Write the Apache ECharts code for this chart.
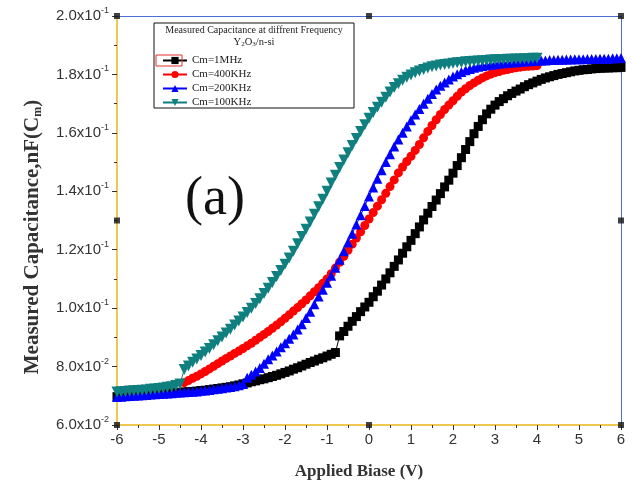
<!DOCTYPE html>
<html>
<head>
<meta charset="utf-8">
<script src="https://cdn.jsdelivr.net/npm/echarts@6/dist/echarts.min.js"></script>
<style>
  html, body { margin: 0; padding: 0; background: #fff; }
  #chart { width: 632px; height: 490px; }
</style>
</head>
<body>
<div id="chart"></div>
<script>
// applied bias (V), 0.1 V steps
const bias = [
  -6.0, -5.9, -5.8, -5.7, -5.6, -5.5, -5.4, -5.3, -5.2, -5.1,
  -5.0, -4.9, -4.8, -4.7, -4.6, -4.5, -4.4, -4.3, -4.2, -4.1,
  -4.0, -3.9, -3.8, -3.7, -3.6, -3.5, -3.4, -3.3, -3.2, -3.1,
  -3.0, -2.9, -2.8, -2.7, -2.6, -2.5, -2.4, -2.3, -2.2, -2.1,
  -2.0, -1.9, -1.8, -1.7, -1.6, -1.5, -1.4, -1.3, -1.2, -1.1,
  -1.0, -0.9, -0.8, -0.7, -0.6, -0.5, -0.4, -0.3, -0.2, -0.1,
   0.0,  0.1,  0.2,  0.3,  0.4,  0.5,  0.6,  0.7,  0.8,  0.9,
   1.0,  1.1,  1.2,  1.3,  1.4,  1.5,  1.6,  1.7,  1.8,  1.9,
   2.0,  2.1,  2.2,  2.3,  2.4,  2.5,  2.6,  2.7,  2.8,  2.9,
   3.0,  3.1,  3.2,  3.3,  3.4,  3.5,  3.6,  3.7,  3.8,  3.9,
   4.0,  4.1,  4.2,  4.3,  4.4,  4.5,  4.6,  4.7,  4.8,  4.9,
   5.0,  5.1,  5.2,  5.3,  5.4,  5.5,  5.6,  5.7,  5.8,  5.9,
   6.0
];

// measured capacitance (nF), null = not measured
const cap1MHz = [
  0.0697, 0.0698, 0.0699, 0.0700, 0.0701, 0.0702, 0.0703, 0.0704, 0.0705, 0.0706,
  0.0707, 0.0708, 0.0709, 0.0710, 0.0711, 0.0712, 0.0713, 0.0714, 0.0715, 0.0716,
  0.0718, 0.0719, 0.0721, 0.0723, 0.0725, 0.0727, 0.0729, 0.0731, 0.0734, 0.0737,
  0.0741, 0.0744, 0.0748, 0.0751, 0.0755, 0.0758, 0.0762, 0.0766, 0.0770, 0.0775,
  0.0780, 0.0785, 0.0791, 0.0796, 0.0802, 0.0808, 0.0814, 0.0819, 0.0825, 0.0830,
  0.0836, 0.0842, 0.0848, 0.0905, 0.0920, 0.0938, 0.0955, 0.0971, 0.0988, 0.1004,
  0.1020, 0.1039, 0.1058, 0.1079, 0.1100, 0.1121, 0.1143, 0.1165, 0.1188, 0.1210,
  0.1232, 0.1255, 0.1278, 0.1302, 0.1325, 0.1348, 0.1370, 0.1392, 0.1415, 0.1438,
  0.1462, 0.1488, 0.1515, 0.1543, 0.1570, 0.1597, 0.1622, 0.1645, 0.1665, 0.1681,
  0.1695, 0.1707, 0.1717, 0.1727, 0.1735, 0.1743, 0.1750, 0.1758, 0.1765, 0.1771,
  0.1777, 0.1783, 0.1788, 0.1792, 0.1796, 0.1800, 0.1803, 0.1806, 0.1809, 0.1812,
  0.1814, 0.1816, 0.1817, 0.1819, 0.1820, 0.1821, 0.1822, 0.1822, 0.1823, 0.1823,
  0.1824
];
const cap400KHz = [
  null, null, null, null, null, null, null, null, null, null,
  null, null, null, null, null, null, 0.0745, 0.0752, 0.0760, 0.0767,
  0.0775, 0.0783, 0.0792, 0.0801, 0.0810, 0.0819, 0.0828, 0.0836, 0.0845, 0.0853,
  0.0862, 0.0871, 0.0880, 0.0890, 0.0900, 0.0910, 0.0920, 0.0931, 0.0942, 0.0953,
  0.0965, 0.0977, 0.0990, 0.1002, 0.1015, 0.1028, 0.1042, 0.1056, 0.1070, 0.1085,
  0.1100, 0.1118, 0.1137, 0.1157, 0.1177, 0.1198, 0.1219, 0.1240, 0.1261, 0.1283,
  0.1305, 0.1327, 0.1349, 0.1371, 0.1393, 0.1416, 0.1439, 0.1463, 0.1483, 0.1502,
  0.1520, 0.1540, 0.1560, 0.1583, 0.1605, 0.1625, 0.1645, 0.1663, 0.1680, 0.1695,
  0.1710, 0.1725, 0.1740, 0.1751, 0.1762, 0.1771, 0.1780, 0.1788, 0.1795, 0.1801,
  0.1806, 0.1810, 0.1814, 0.1817, 0.1820, 0.1823, 0.1825, 0.1827, 0.1828, 0.1829,
  0.1830, null, null, null, null, null, null, null, null, null,
  null, null, null, null, null, null, null, null, null, null,
  null
];
const cap200KHz = [
  0.0696, 0.0697, 0.0698, 0.0699, 0.0700, 0.0701, 0.0702, 0.0703, 0.0704, 0.0705,
  0.0706, 0.0707, 0.0708, 0.0709, 0.0710, 0.0711, 0.0712, 0.0713, 0.0714, 0.0715,
  0.0717, 0.0718, 0.0720, 0.0722, 0.0724, 0.0726, 0.0728, 0.0730, 0.0733, 0.0736,
  0.0740, 0.0762, 0.0772, 0.0783, 0.0795, 0.0810, 0.0825, 0.0838, 0.0852, 0.0866,
  0.0880, 0.0895, 0.0910, 0.0927, 0.0945, 0.0966, 0.0988, 0.1013, 0.1040, 0.1063,
  0.1087, 0.1111, 0.1138, 0.1166, 0.1195, 0.1225, 0.1255, 0.1286, 0.1318, 0.1350,
  0.1382, 0.1413, 0.1443, 0.1472, 0.1500, 0.1527, 0.1553, 0.1577, 0.1600, 0.1622,
  0.1643, 0.1663, 0.1682, 0.1700, 0.1717, 0.1733, 0.1748, 0.1761, 0.1772, 0.1783,
  0.1793, 0.1801, 0.1808, 0.1814, 0.1819, 0.1823, 0.1826, 0.1829, 0.1831, 0.1833,
  0.1835, 0.1837, 0.1838, 0.1840, 0.1841, 0.1842, 0.1843, 0.1844, 0.1845, 0.1846,
  0.1847, 0.1848, 0.1848, 0.1849, 0.1849, 0.1850, 0.1850, 0.1851, 0.1851, 0.1852,
  0.1852, 0.1852, 0.1853, 0.1853, 0.1853, 0.1854, 0.1854, 0.1854, 0.1855, 0.1855,
  0.1856
];
const cap100KHz = [
  0.0713, 0.0714, 0.0715, 0.0716, 0.0717, 0.0718, 0.0719, 0.0720, 0.0722, 0.0723,
  0.0725, 0.0727, 0.0729, 0.0731, 0.0735, 0.0740, 0.0790, 0.0802, 0.0815, 0.0826,
  0.0838, 0.0850, 0.0862, 0.0875, 0.0888, 0.0901, 0.0915, 0.0928, 0.0942, 0.0956,
  0.0970, 0.0985, 0.1000, 0.1016, 0.1032, 0.1050, 0.1068, 0.1088, 0.1108, 0.1129,
  0.1150, 0.1172, 0.1195, 0.1220, 0.1245, 0.1270, 0.1295, 0.1321, 0.1347, 0.1373,
  0.1400, 0.1428, 0.1455, 0.1481, 0.1507, 0.1532, 0.1557, 0.1581, 0.1605, 0.1628,
  0.1650, 0.1670, 0.1688, 0.1705, 0.1722, 0.1740, 0.1755, 0.1768, 0.1780, 0.1790,
  0.1798, 0.1806, 0.1812, 0.1817, 0.1822, 0.1826, 0.1829, 0.1832, 0.1834, 0.1836,
  0.1838, 0.1840, 0.1841, 0.1843, 0.1844, 0.1845, 0.1846, 0.1847, 0.1848, 0.1849,
  0.1850, 0.1851, 0.1851, 0.1852, 0.1852, 0.1853, 0.1853, 0.1854, 0.1854, 0.1855,
  0.1855, null, null, null, null, null, null, null, null, null,
  null, null, null, null, null, null, null, null, null, null,
  null
];

const seriesNames = ['Cm=1MHz', 'Cm=400KHz', 'Cm=200KHz', 'Cm=100KHz'];

// little black squares sitting on the frame in the original
const frameMarks = [[-6, 0.2], [0, 0.2], [6, 0.2], [-6, 0.13], [6, 0.13], [-6, 0.06], [0, 0.06], [6, 0.06]];

const pairs = (ys) => bias.map((x, i) => [x, ys[i]]).filter(p => p[1] !== null);

// 0.12 -> 1.2x10^-1
const sciLabel = (v) => {
  const e = Math.floor(Math.log10(v) + 1e-9);
  const m = (v / Math.pow(10, e)).toFixed(1);
  return '{m|' + m + 'x10}{e|' + e + '}';
};

const chart = echarts.init(document.getElementById('chart'));

const lineSeries = (name, ys, color, symbol, size, rotate) => ({
  name: name,
  type: 'line',
  data: pairs(ys),
  symbol: symbol,
  symbolSize: size,
  symbolRotate: rotate || 0,
  showAllSymbol: true,
  itemStyle: { color: color },
  lineStyle: { color: color, width: 1 },
  animation: false
});

const option = {
  backgroundColor: '#fff',
  grid: { left: 117, right: 11, top: 16, bottom: 65 },
  legend: {
    data: seriesNames,
    orient: 'vertical',
    left: 157,
    top: 50,
    itemGap: 3,
    itemWidth: 24,
    itemHeight: 9,
    textStyle: { fontFamily: 'Liberation Serif', fontSize: 11, color: '#222' }
  },
  xAxis: [{
    type: 'value',
    min: -6, max: 6, interval: 1,
    name: 'Applied Biase (V)',
    nameLocation: 'middle',
    nameGap: 38,
    nameTextStyle: { fontFamily: 'Liberation Serif', fontWeight: 'bold', fontSize: 17, color: '#333', padding: [0, 20, 0, 0] },
    axisLine: { onZero: false, lineStyle: { color: '#f0c850', width: 2 } },
    axisTick: { length: 5, lineStyle: { color: '#333' } },
    minorTick: { show: true, splitNumber: 2, length: 3, lineStyle: { color: '#333' } },
    axisLabel: { fontFamily: 'Liberation Sans', fontSize: 15, color: '#333', margin: 7 },
    splitLine: { show: false }
  }, {
    type: 'value', position: 'top',
    min: -6, max: 6,
    axisLine: { onZero: false, lineStyle: { color: '#4a6fd0', width: 1 } },
    axisTick: { show: false }, axisLabel: { show: false }, splitLine: { show: false }
  }],
  yAxis: [{
    type: 'value',
    min: 0.06, max: 0.2, interval: 0.02,
    axisLine: { onZero: false, lineStyle: { color: '#f0c850', width: 2 } },
    axisTick: { length: 5, lineStyle: { color: '#333' } },
    minorTick: { show: true, splitNumber: 2, length: 3, lineStyle: { color: '#333' } },
    axisLabel: {
      margin: 8,
      formatter: sciLabel,
      rich: {
        m: { fontFamily: 'Liberation Sans', fontSize: 15, color: '#333', lineHeight: 20 },
        e: { fontFamily: 'Liberation Sans', fontSize: 9, color: '#333', verticalAlign: 'top', lineHeight: 20 }
      }
    },
    splitLine: { show: false }
  }, {
    type: 'value', position: 'right',
    min: 0.06, max: 0.2,
    axisLine: { show: true, onZero: false, lineStyle: { color: '#4a6fd0', width: 1 } },
    axisTick: { show: false }, axisLabel: { show: false }, splitLine: { show: false }
  }],
  graphic: [
    // y axis title, reads bottom to top
    { type: 'text', x: 33, y: 237, rotation: Math.PI / 2, style: {
        text: '{t|Measured Capacitance,nF(C}{s|m}{t|)}', align: 'center', verticalAlign: 'middle',
        rich: {
          t: { fontFamily: 'Liberation Serif', fontWeight: 'bold', fontSize: 21, fill: '#333' },
          s: { fontFamily: 'Liberation Serif', fontWeight: 'bold', fontSize: 12, fill: '#333', verticalAlign: 'bottom', padding: [10, 0, 0, 0] }
        }
      } },
    { type: 'rect', shape: { x: 154, y: 23, width: 200, height: 85 }, style: { fill: '#fff', stroke: '#111', lineWidth: 1 }, z: -1 },
    { type: 'text', x: 254, y: 25, style: { text: 'Measured Capacitance at diffrent Frequency', align: 'center', fontFamily: 'Liberation Serif', fontSize: 10, fill: '#222' } },
    { type: 'text', x: 254, y: 37, style: {
        text: '{n|Y}{s|2}{n|O}{s|3}{n|/n-si}', align: 'center',
        rich: {
          n: { fontFamily: 'Liberation Serif', fontSize: 10.5, fill: '#222' },
          s: { fontFamily: 'Liberation Serif', fontSize: 7, fill: '#222', verticalAlign: 'bottom' }
        }
      } },
    { type: 'rect', shape: { x: 156, y: 55, width: 26, height: 11 }, style: { fill: 'none', stroke: '#e03030', lineWidth: 1 }, z: 10 },
    { type: 'text', x: 215, y: 200, style: { text: '(a)', align: 'center', verticalAlign: 'middle', fontFamily: 'Liberation Serif', fontSize: 54, fill: '#111' } }
  ],
  series: [
    lineSeries(seriesNames[0], cap1MHz, '#000000', 'rect', 9),
    lineSeries(seriesNames[1], cap400KHz, '#ff0000', 'circle', 9),
    lineSeries(seriesNames[2], cap200KHz, '#0000ff', 'triangle', 10),
    lineSeries(seriesNames[3], cap100KHz, '#0f7f7f', 'triangle', 11, 180),
    {
      name: 'frame',
      type: 'scatter',
      data: frameMarks,
      symbol: 'rect',
      symbolSize: 6,
      itemStyle: { color: '#111' },
      silent: true,
      clip: false,
      z: 5,
      animation: false
    }
  ]
};

chart.setOption(option);
</script>
</body>
</html>
